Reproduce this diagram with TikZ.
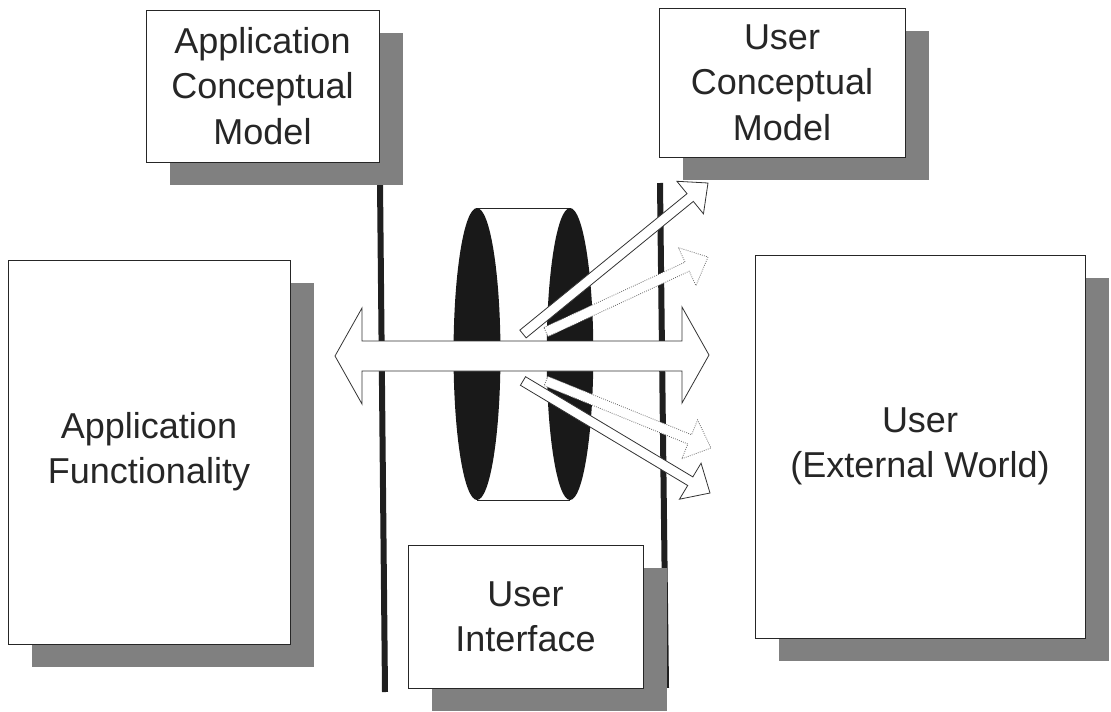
\documentclass[tikz,border=0pt]{standalone}
\usepackage{fontspec}
\setmainfont{Liberation Sans}
\usetikzlibrary{calc,shadows}
% block arrow: #1 style, #2 tail, #3 tip, #4 shaft half-width, #5 head half-width, #6 head length
\newcommand\myblockarrow[6]{%
  \path ($(#3)!#6!(#2)$) coordinate (hb);
  \draw[#1] ($(#2)!#4!90:(#3)$) -- ($(hb)!#4!-90:(#2)$) -- ($(hb)!#5!-90:(#2)$) -- (#3)
    -- ($(hb)!#5!90:(#2)$) -- ($(hb)!#4!90:(#2)$) -- ($(#2)!#4!-90:(#3)$) -- cycle;
}
\begin{document}
\begin{tikzpicture}[x=0.75pt,y=-0.75pt,
  box/.style={draw=black!85, line width=0.6pt, fill=white, inner sep=0pt, outer sep=0pt,
    align=center, font=\fontsize{27}{34}\selectfont, text=black!85,
    drop shadow={shadow xshift=18pt, shadow yshift=-17.25pt, fill=black!50, opacity=1}},
  rail/.style={line width=4.5pt, draw=black!88},
  barrow/.style={draw=black!80, line width=0.6pt, fill=white, line join=miter},
  dotarrow/.style={barrow, densely dotted, draw=black!60},
  cyl/.style={fill=black!90},
]
\useasboundingbox (0,0) rectangle (1111,711);

% rails
\coordinate (lt) at (380,182); \coordinate (lb) at (385,692);
\coordinate (rt) at (660,183); \coordinate (rb) at (666,688);
\draw[rail] (lt) -- (lb);
\draw[rail] (rt) -- (rb);

% boxes
\node[box, minimum width=174.75pt, minimum height=114pt] (acm) at (262.5,86) {Application\\Conceptual\\Model};
\node[box, minimum width=184.5pt, minimum height=111.75pt] (ucm) at (782,82.5) {User\\Conceptual\\Model};
\node[box, minimum width=211.5pt, minimum height=288pt] (af) at (149,452) {Application\\Functionality};
\node[box, minimum width=247.5pt, minimum height=287.25pt] (usr) at (920,446.5) {User\\(External World)};
\node[box, minimum width=176.25pt, minimum height=107.25pt] (ui) at (525.5,616.5) {User\\Interface};

% cylinder
\coordinate (cl) at (477,354); \coordinate (cr) at (570,354);
\fill[white] (477,208) rectangle (570,500);
\draw[black!85, line width=0.6pt] (477,208) -- (570,208) (477,500) -- (570,500);
\fill[cyl] (cl) ellipse [x radius=17.6pt, y radius=109.5pt];
\fill[cyl] (cr) ellipse [x radius=17.5pt, y radius=109.5pt];

% diagonal arrows
\coordinate (t1) at (523,334); \coordinate (p1) at (708,183);
\coordinate (t2) at (546,332); \coordinate (p2) at (708,257);
\coordinate (t3) at (546,381); \coordinate (p3) at (711,448);
\coordinate (t4) at (523,381); \coordinate (p4) at (710,493);
\myblockarrow{dotarrow}{t2}{p2}{3.75pt}{15.75pt}{17.25pt}
\myblockarrow{dotarrow}{t3}{p3}{3.75pt}{15.75pt}{17.25pt}
\myblockarrow{barrow}{t1}{p1}{3.75pt}{15.75pt}{17.25pt}
\myblockarrow{barrow}{t4}{p4}{3.75pt}{15.75pt}{17.25pt}

% horizontal double arrow
\draw[barrow] (335,356) -- (362,308) -- (362,341) -- (682,341) -- (682,307) -- (709,355)
  -- (682,403) -- (682,371) -- (362,371) -- (362,404) -- cycle;
\end{tikzpicture}
\end{document}
